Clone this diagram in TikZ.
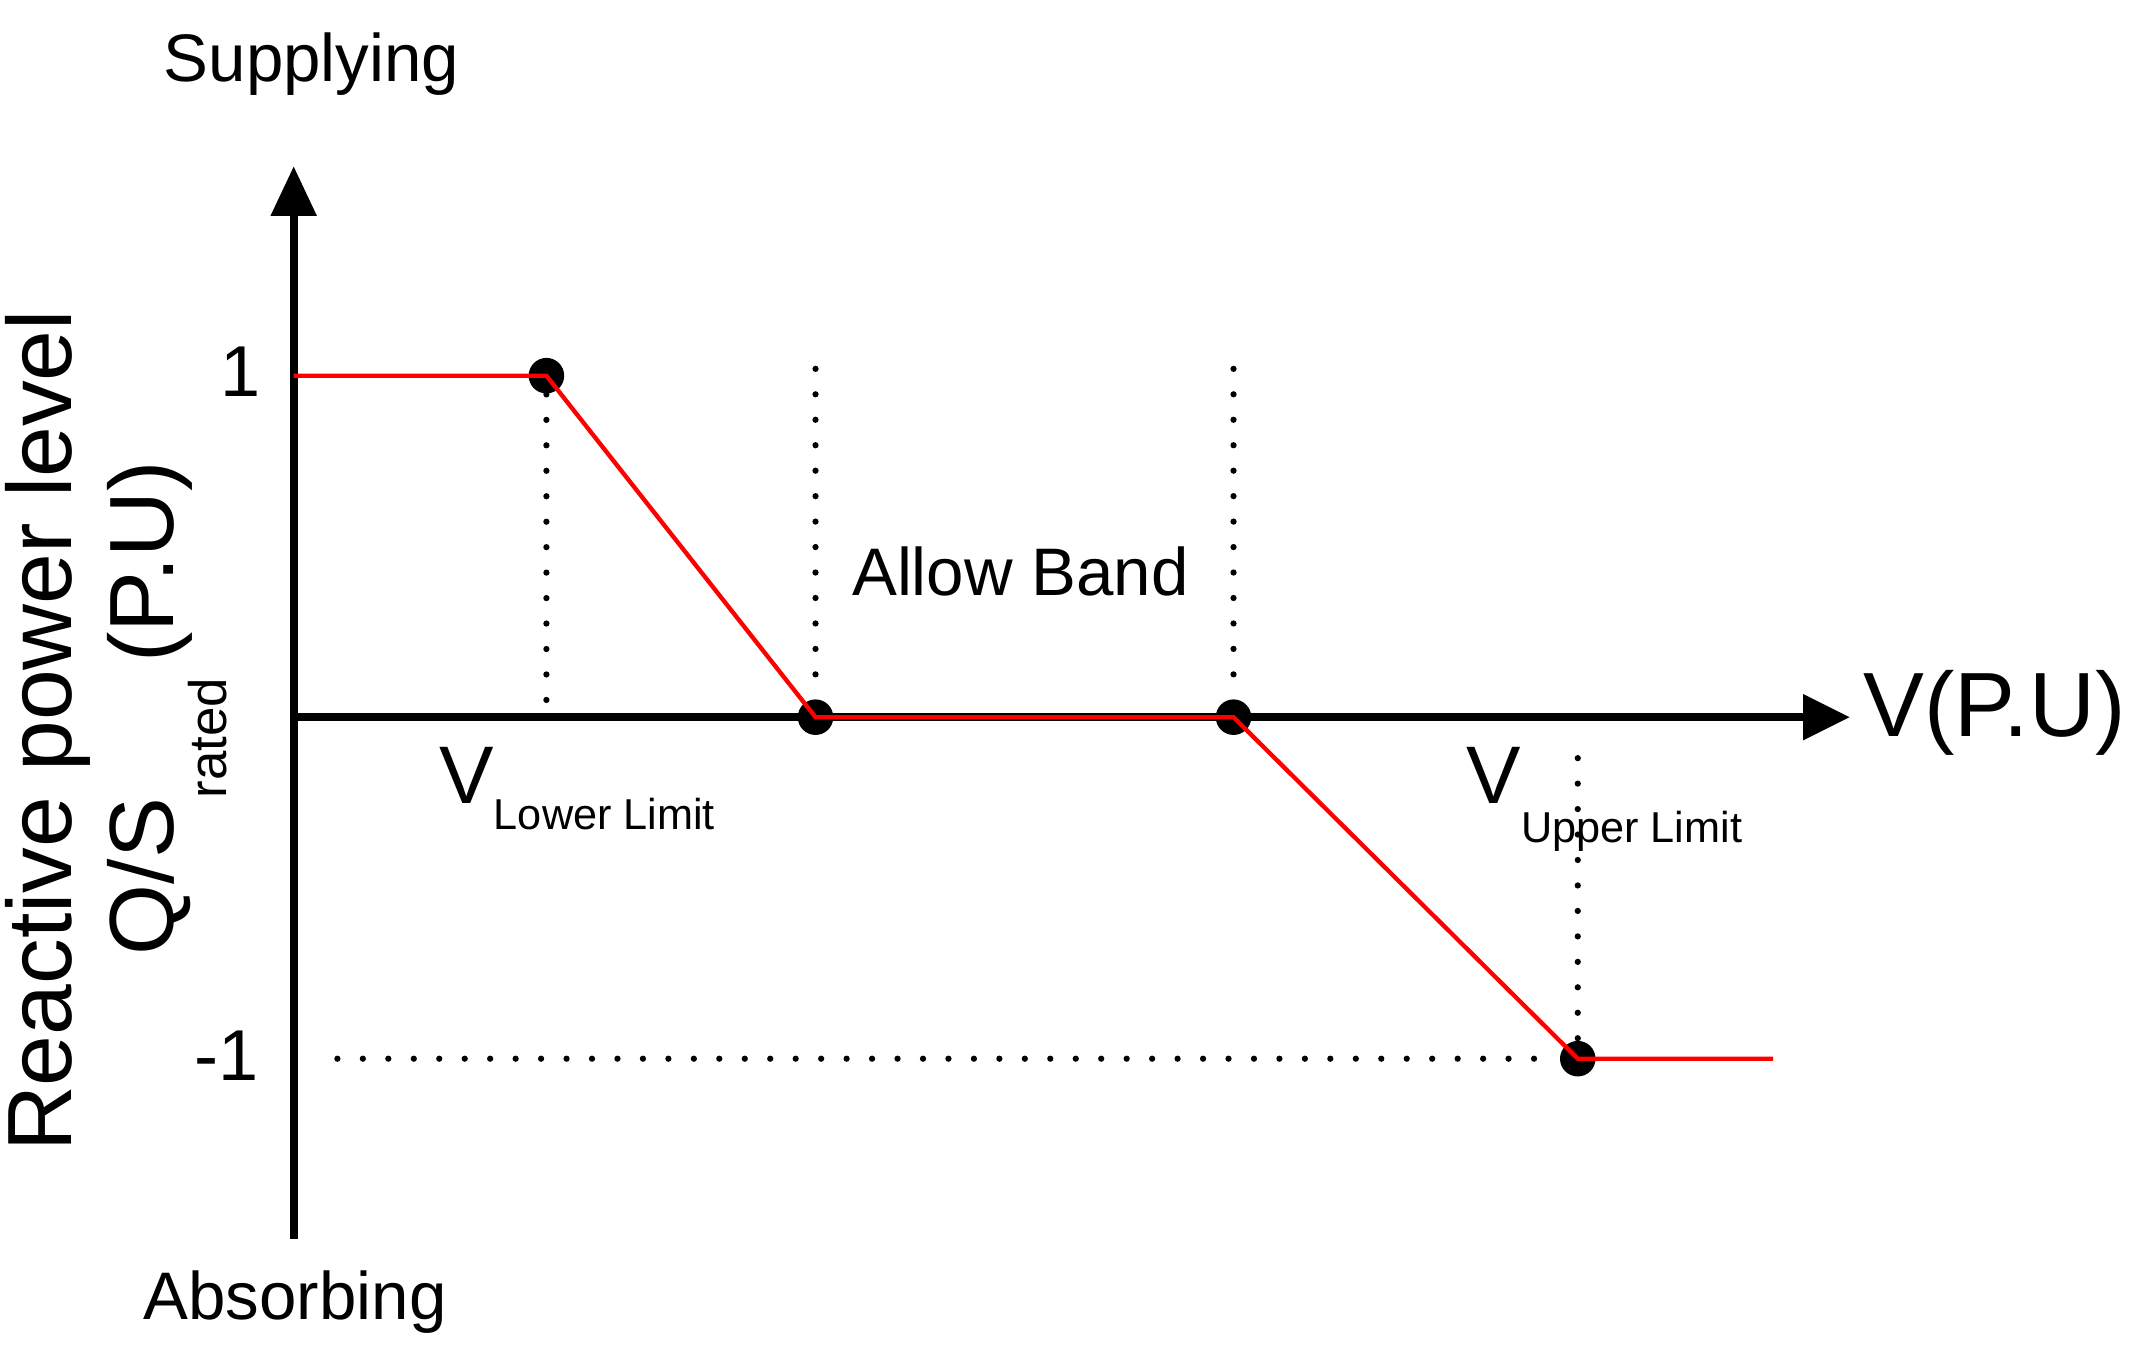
\documentclass[tikz,border=0pt]{standalone}
\usepackage{fontspec}
\setmainfont{Liberation Sans}
\usetikzlibrary{arrows.meta}
\begin{document}
\begin{tikzpicture}[x=0.01cm,y=-0.01cm,
  ax/.style={line width=1.6pt},
  red/.style={draw=red,line width=0.9pt},
  dot/.style={circle,fill=black,inner sep=0pt,minimum size=0.26cm},
  dots/.style={line width=1.3pt,dash pattern=on 0pt off 5.3pt,line cap=round},
  lab/.style={font=\fontsize{14}{16}\selectfont,inner sep=0pt}]
\useasboundingbox (0,0) rectangle (1560,990);
\coordinate (o) at (215,525);
\coordinate (yt) at (215,122);
\coordinate (yb) at (215,907);
\coordinate (xt) at (1354,525);
\coordinate (s0) at (215,275);
\coordinate (e1) at (1298,775);
\coordinate (m0) at (215,775);
\node[dot] (p1) at (400,275) {};
\node[dot] (p2) at (597,525) {};
\node[dot] (p3) at (903,525) {};
\node[dot] (p4) at (1155,775) {};
\coordinate (d1) at (400,525);
\coordinate (d2) at (597,270);
\coordinate (d3) at (903,270);
\coordinate (d4) at (1155,555);
\draw[ax] (yb) -- (215,150);
\draw[ax] (o) -- (1325,525);
\fill (yt) -- (198,158) -- (232,158) -- cycle;
\fill (xt) -- (1320,508) -- (1320,542) -- cycle;
\draw[dots] (p1) -- (d1);
\draw[dots] (d2) -- (p2);
\draw[dots] (d3) -- (p3);
\draw[dots] (d4) -- (p4);
\draw[dots] (247,775) -- (p4);
\draw[red] (s0) -- (p1.center) -- (p2.center) -- (p3.center) -- (p4.center) -- (e1);
\node[lab] (sup) at (228,47) {Supplying};
\node[lab] (abs) at (216,953) {Absorbing};
\node[lab,font=\fontsize{15}{16}\selectfont] (one) at (176,272) {1};
\node[lab,font=\fontsize{15}{16}\selectfont] (mone) at (166,773) {-1};
\node[lab] (ab) at (747,418) {Allow Band};
\node[lab,font=\fontsize{19}{20}\selectfont] (vpu) at (1460,522) {V(P.U)};
\node[lab,anchor=base west,font=\fontsize{17}{18}\selectfont] (vl) at (321,588) {V\raisebox{-0.6ex}{\fontsize{9}{10}\selectfont Lower Limit}};
\node[lab,anchor=base west,font=\fontsize{17}{18}\selectfont] (vu) at (1073,588) {V\raisebox{-0.9ex}{\fontsize{9}{10}\selectfont Upper Limit}};
\node[lab,rotate=90,font=\fontsize{19}{20}\selectfont] (rp) at (35,535) {Reactive power level};
\node[lab,rotate=90,anchor=base west,font=\fontsize{19}{20}\selectfont] (qs) at (127,700) {Q/S\raisebox{-1.1ex}{\fontsize{11}{12}\selectfont rated}\,(P.U)};
\end{tikzpicture}
\end{document}
